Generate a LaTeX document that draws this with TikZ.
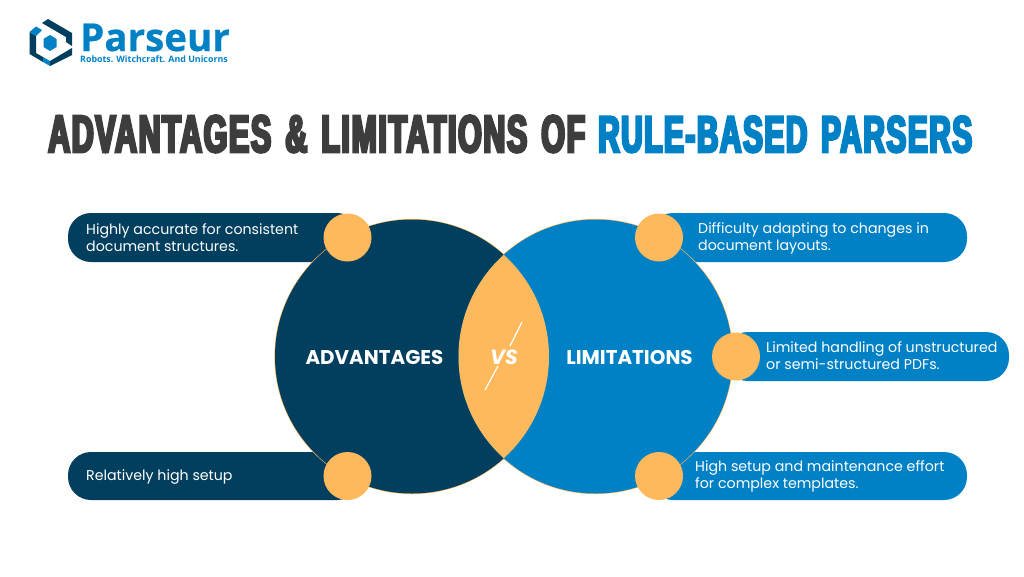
\documentclass[tikz,border=0pt]{standalone}
\usepackage{fontspec}
\setmainfont{Poppins}
\newfontfamily\titlef[UprightFont=* Bold,FakeBold=5,FakeStretch=0.58,LetterSpace=3,WordSpace=1.4]{Liberation Sans}
\newfontfamily\headf[UprightFont=* Bold]{Poppins}
\newfontfamily\logof[UprightFont=* Bold,FakeBold=0.6]{Open Sans}
\newfontfamily\tagf[UprightFont=* Bold]{Open Sans}
\definecolor{navy}{HTML}{023F5E}
\definecolor{blue}{HTML}{0081C6}
\definecolor{gold}{HTML}{FDB95B}
\definecolor{ink}{HTML}{3D3D3D}
\tikzset{
  pillL/.style={fill=navy,rounded corners=23pt},
  pillR/.style={fill=blue,rounded corners=23pt},
  dot/.style={circle,fill=gold,minimum size=48pt,inner sep=0pt},
  body/.style={text=white,font=\fontsize{14.2}{17.2}\selectfont,align=left,anchor=west,inner sep=0pt},
  head/.style={text=white,font=\headf\fontsize{19.9}{22}\selectfont,inner sep=0pt},
  titlenode/.style={anchor=base west,inner sep=0pt,font=\titlef\fontsize{58}{60}\selectfont},
}
\begin{document}
\begin{tikzpicture}[x=1pt,y=-1pt]
\useasboundingbox (0,0) rectangle (1024,576);
% logo
\fill[navy] (42,23) -- (48,19) -- (72,33) -- (72,46) -- (66,42) -- (66,37) -- cycle;
\fill[navy] (29.5,32) -- (36,36) -- (36,53) -- (43,57) -- (43,62) -- (29.5,54) -- cycle;
\fill[blue] (29.5,32) -- (36,26.5) -- (42,30) -- (36,36) -- cycle;
\fill[blue] (50,35) -- (56.5,39) -- (56.5,47) -- (50,51) -- (43.5,47) -- (43.5,39) -- cycle;
\fill[blue] (43,57) -- (50,61) -- (50,66) -- (43,62) -- cycle;
\fill[navy] (50,61) -- (72,48) -- (72,55) -- (50,66) -- cycle;
\node[anchor=base west,inner sep=0pt,text=blue,font=\logof\fontsize{38.5}{40}\selectfont] (logo) at (80,51) {Parseur};
\node[anchor=base west,inner sep=0pt,text=blue,font=\tagf\fontsize{8.85}{10}\selectfont] (tag) at (80,62) {Robots. Witchcraft. And Unicorns};
% title
\node[titlenode,text=ink] (t1) at (48,152) {\resizebox{537pt}{!}{ADVANTAGES \& LIMITATIONS OF}};
\node[titlenode,text=blue] (t2) at (598,152) {\resizebox{374pt}{!}{RULE-BASED PARSERS}};
% pills
\fill[pillL] (68,213) rectangle (360,262);
\fill[pillL] (68,452) rectangle (360,500);
\fill[pillR] (650,213) rectangle (967,262);
\fill[pillR] (725,332) rectangle (1009,381);
\fill[pillR] (650,452) rectangle (967,500);
% circles
\fill[gold] (412,356.5) circle (137.6);
\fill[gold] (595.5,356.5) circle (137.6);
\fill[navy] (412,356.5) circle (137);
\fill[blue] (595.5,356.5) circle (137);
\begin{scope}
\clip (412,356.5) circle (137);
\fill[gold] (595.5,356.5) circle (137);
\end{scope}
% dots
\node[dot] (d1) at (347.5,237.5) {};
\node[dot] (d2) at (347.5,476) {};
\node[dot] (d3) at (659,237.5) {};
\node[dot] (d4) at (736,356.5) {};
\node[dot] (d5) at (659,476) {};
% text
\node[body] (b1) at (86,238) {Highly accurate for consistent\\document structures.};
\node[body] (b2) at (86,477.5) {Relatively high setup};
\node[body] (b3) at (698,238.5) {Difficulty adapting to changes in\\document layouts.};
\node[body] (b4) at (766,355.8) {Limited handling of unstructured\\or semi-structured PDFs.};
\node[body] (b5) at (695,476.5) {High setup and maintenance effort\\for complex templates.};
\node[head] (ha) at (374.5,357) {ADVANTAGES};
\node[head] (hl) at (629.5,357) {LIMITATIONS};
% vs
\draw[white,line width=1.2pt] (522,322) -- (510,346);
\draw[white,line width=1.2pt] (498,366) -- (485,390);
\node[text=white,inner sep=0pt,font=\headf\itshape\fontsize{20.5}{24}\selectfont] (vs) at (504,357.5) {VS};
\end{tikzpicture}
\end{document}
